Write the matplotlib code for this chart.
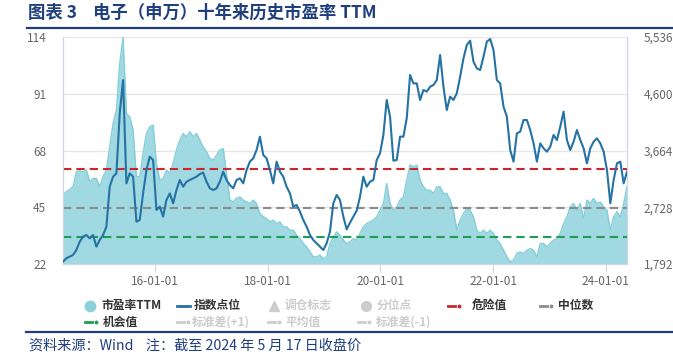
import numpy as np
import pandas as pd
import matplotlib
matplotlib.use("Agg")
import matplotlib.pyplot as plt
from matplotlib.lines import Line2D

plt.rcParams['font.family'] = ['Noto Sans CJK SC', 'DejaVu Sans']

# ---- data ----
start_date = '2014-05-17'
end_date = '2024-05-17'

pe_ttm = [
    50.2, 51.3, 52.2, 53.3, 59.4, 59.8, 59.4, 60.1, 55.3, 56.7,
    56.7, 53.3, 57.4, 60.1, 69.5, 79.0, 84.4, 103.3, 113.9, 83.0,
    81.7, 76.3, 57.4, 57.4, 66.8, 74.9, 77.6, 78.3, 62.8, 56.0,
    56.7, 60.1, 58.7, 62.8, 68.2, 72.2, 74.9, 73.6, 75.6, 73.6,
    74.9, 72.2, 69.5, 67.5, 64.8, 64.1, 66.1, 68.2, 68.8, 58.7,
    47.9, 47.2, 48.6, 49.2, 47.9, 47.2, 46.5, 47.9, 46.5, 42.5,
    41.1, 40.4, 39.1, 39.8, 38.4, 39.1, 37.1, 37.1, 35.7, 35.7,
    33.7, 32.3, 30.3, 29.0, 26.9, 24.9, 24.9, 25.6, 24.2, 24.9,
    30.3, 33.0, 35.0, 33.7, 31.7, 30.3, 31.0, 32.3, 31.7, 34.4,
    37.1, 38.4, 39.1, 39.8, 41.1, 43.8, 46.5, 54.6, 46.5, 43.8,
    45.2, 47.9, 49.2, 56.0, 62.1, 61.4, 62.1, 56.0, 53.3, 51.9,
    51.9, 50.6, 53.3, 53.3, 50.6, 50.6, 47.9, 43.8, 35.7, 39.8,
    42.5, 44.5, 43.8, 41.1, 35.7, 34.4, 35.7, 34.4, 35.7, 34.4,
    31.7, 30.3, 27.6, 24.9, 22.9, 23.6, 26.3, 26.9, 26.3, 27.6,
    28.3, 27.6, 24.9, 30.3, 30.3, 29.0, 30.3, 31.7, 32.3, 34.4,
    38.4, 41.1, 45.2, 46.5, 43.8, 46.5, 40.4, 47.9, 46.5, 48.6,
    46.5, 47.2, 45.2, 43.8, 35.7, 41.1, 43.2, 41.1, 46.5, 53.3,
]

index_level = [
    1830, 1886, 1913, 1941, 2023, 2160, 2243, 2270, 2215, 2270,
    2078, 2188, 2270, 2408, 3067, 3232, 3287, 4277, 4826, 3122,
    3287, 3232, 2490, 2518, 2957, 3342, 3562, 3507, 2683, 2738,
    2573, 2848, 2957, 2793, 3012, 3177, 3067, 3150, 3177, 3205,
    3232, 3276, 3298, 3150, 3040, 3012, 3040, 3150, 3315, 3177,
    3095, 3040, 3177, 3205, 3122, 3342, 3480, 3535, 3672, 3892,
    3590, 3535, 3342, 3122, 3480, 3315, 3232, 3067, 2957, 2738,
    2766, 2656, 2518, 2408, 2270, 2188, 2133, 2078, 2023, 2133,
    2325, 2793, 2930, 2848, 2573, 2364, 2474, 2573, 2672, 2902,
    3232, 3067, 3150, 3177, 3507, 3617, 3920, 4497, 4222, 3496,
    3507, 3892, 3892, 4195, 4909, 4771, 4771, 4497, 4662, 4635,
    4716, 4744, 4826, 5239, 4716, 4332, 4552, 4497, 4607, 4881,
    5184, 5404, 5475, 5129, 5019, 4991, 5211, 5459, 5503, 5321,
    4826, 4771, 4387, 4222, 3672, 3480, 3947, 3975, 4167, 4167,
    4002, 3782, 3480, 3782, 3700, 3645, 3727, 3920, 3837, 4057,
    4305, 3837, 3672, 3810, 4002, 3837, 3700, 3452, 3700, 3810,
    3865, 3782, 3645, 3342, 2793, 3177, 3452, 3480, 3122, 3315,
]

danger_pe = 60.5
median_pe = 44.8
chance_pe = 32.9

pe_ticks = [22, 45, 68, 91, 114]
idx_ticks = [1792, 2728, 3664, 4600, 5536]
x_ticks = ['2016-01-01', '2018-01-01', '2020-01-01', '2022-01-01', '2024-01-01']
x_tick_labels = ['16-01-01', '18-01-01', '20-01-01', '22-01-01', '24-01-01']

dates = pd.date_range(start_date, end_date, periods=len(pe_ttm))

# ---- figure ----
W, H = 673, 361
fig = plt.figure(figsize=(W / 100, H / 100), dpi=100)
fig.patch.set_facecolor('white')


def fx(x):
    return x / W


def fy(y):
    return 1 - y / H


ax = fig.add_axes([fx(63), fy(264), fx(627) - fx(63), fy(37) - fy(264)])
ax2 = ax.twinx()

navy = '#1F3F7F'
grey_txt = '#666666'
axis_col = '#CCD6EB'
dash = (4, 2.4)

# PE area
ax.fill_between(dates, 22, pe_ttm, color='#A0D9E1', lw=0, zorder=1)
ax.plot(dates, pe_ttm, color='#84CED8', lw=1.0, zorder=2)

# reference lines
ax.axhline(danger_pe, color='#C8282D', lw=1.5, dashes=dash, zorder=3)
ax.axhline(median_pe, color='#8C8C8C', lw=1.5, dashes=dash, zorder=3)
ax.axhline(chance_pe, color='#1E9E50', lw=1.5, dashes=dash, zorder=3)

# index line
ax2.plot(dates, index_level, color='#2572A4', lw=1.5, zorder=4)

ax.set_xlim(dates[0], dates[-1])
ax.set_ylim(pe_ticks[0], pe_ticks[-1])
ax2.set_ylim(idx_ticks[0], idx_ticks[-1])

ax.set_yticks(pe_ticks)
ax.set_yticklabels([str(v) for v in pe_ticks])
ax2.set_yticks(idx_ticks)
ax2.set_yticklabels([f'{v:,}' for v in idx_ticks])
ax.set_xticks(pd.to_datetime(x_ticks))
ax.set_xticklabels(x_tick_labels)

ax.grid(axis='y', color='#E6E6E6', lw=1)
ax.set_axisbelow(True)
ax.patch.set_alpha(0)

for a in (ax, ax2):
    for s in a.spines.values():
        s.set_color(axis_col)
        s.set_linewidth(0.8)
    a.spines['top'].set_visible(False)

ax.tick_params(axis='y', length=0, pad=12, labelsize=8.5, labelcolor=grey_txt)
ax2.tick_params(axis='y', length=0, pad=12, labelsize=8.5, labelcolor=grey_txt)
ax.tick_params(axis='x', length=6, color=axis_col, pad=2, labelsize=8.5,
               labelcolor=grey_txt)

# ---- title and rules ----
fig.text(fx(28), fy(13), '图表 3    电子（申万）十年来历史市盈率 TTM',
         fontsize=12.5, weight='bold', color=navy, va='center', ha='left')
fig.add_artist(Line2D([fx(27), 1], [fy(28), fy(28)], color=navy, lw=1.6))
fig.add_artist(Line2D([fx(26), 1], [fy(331.5), fy(331.5)], color=navy, lw=1.6))
fig.text(fx(29), fy(346), '资料来源：Wind    注：截至 2024 年 5 月 17 日收盘价',
         fontsize=10.2, style='italic', color=navy, va='center', ha='left')

# ---- legend (drawn by hand to mimic the source layout) ----
on_txt = '#333333'
off = '#CCCCCC'


def leg_text(x, y, s, c):
    fig.text(fx(x), fy(y), s, fontsize=8.5, weight='bold', color=c,
             va='center', ha='left')


def leg_dashdot(x, y, c):
    fig.add_artist(Line2D([fx(x), fx(x + 7)], [fy(y), fy(y)], color=c, lw=2))
    fig.add_artist(Line2D([fx(x + 11)], [fy(y)], marker='o', ms=1.8,
                          color=c, lw=0))


r1, r2 = 305.5, 322
fig.add_artist(Line2D([fx(90)], [fy(r1)], marker='o', ms=7.5, color='#8AD1DA', lw=0))
leg_text(102, r1, '市盈率TTM', on_txt)
fig.add_artist(Line2D([fx(177), fx(190)], [fy(r1), fy(r1)], color='#2572A4', lw=2))
leg_text(194, r1, '指数点位', on_txt)
fig.add_artist(Line2D([fx(274)], [fy(r1)], marker='^', ms=6.5, color=off, lw=0))
leg_text(285, r1, '调仓标志', off)
fig.add_artist(Line2D([fx(366)], [fy(r1)], marker='o', ms=7, color=off, lw=0))
leg_text(377, r1, '分位点', off)
leg_dashdot(448, r1, '#C8282D')
leg_text(472, r1, '危险值', on_txt)
leg_dashdot(540, r1, '#8C8C8C')
leg_text(558, r1, '中位数', on_txt)

leg_dashdot(85, r2, '#1E9E50')
leg_text(103, r2, '机会值', on_txt)
leg_dashdot(177, r2, off)
leg_text(192, r2, '标准差(+1)', off)
leg_dashdot(268, r2, off)
leg_text(285, r2, '平均值', off)
leg_dashdot(358, r2, off)
leg_text(376, r2, '标准差(-1)', off)

fig.savefig('out.png', dpi=100)
